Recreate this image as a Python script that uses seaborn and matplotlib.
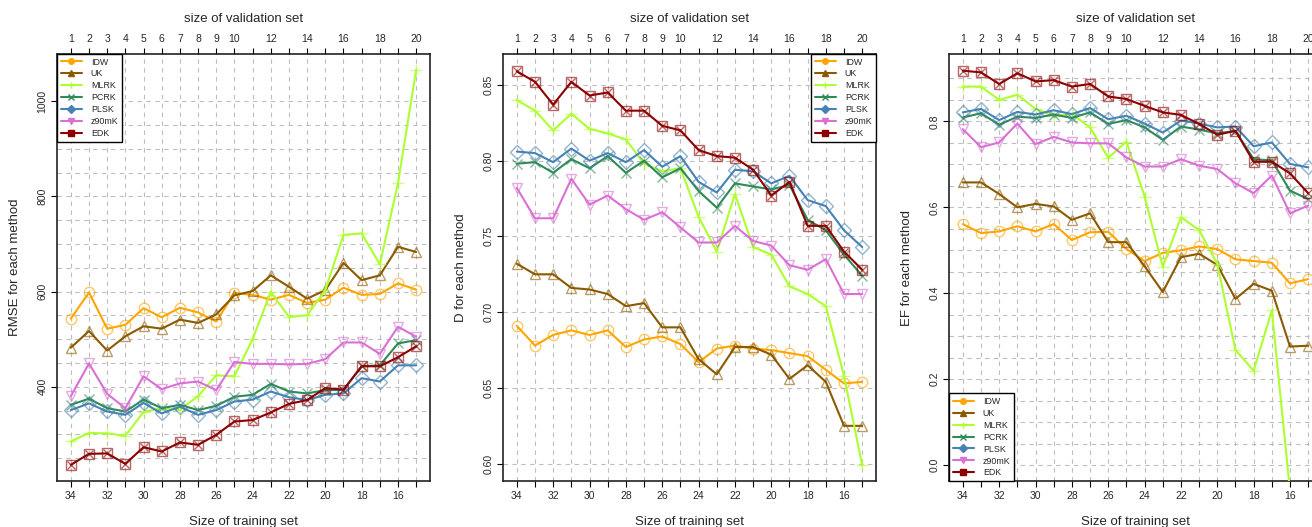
import matplotlib
matplotlib.use("Agg")
import numpy as np
import pandas as pd
import matplotlib.pyplot as plt
from matplotlib.lines import Line2D
import seaborn as sns

# x axis: size of validation set (top) / size of training set (bottom)
validation_size = [1, 2, 3, 4, 5, 6, 7, 8, 9, 10, 11, 12, 13, 14, 15, 16, 17, 18, 19, 20]
training_size = [34, 33, 32, 31, 30, 29, 28, 27, 26, 25, 24, 23, 22, 21, 20, 19, 18, 17, 16, 15]
methods = ["IDW", "UK", "MLRK", "PCRK", "PLSK", "z90mK", "EDK"]

# RMSE
rmse_idw = [543, 598, 522, 530, 565, 546, 566, 556, 537, 597, 593, 583, 593, 576, 583, 608, 593, 595, 617, 604]
rmse_uk = [482, 517, 476, 506, 527, 522, 541, 534, 552, 592, 601, 634, 610, 585, 603, 660, 624, 634, 694, 683]
rmse_mlrk = [285, 303, 302, 297, 347, 355, 352, 380, 424, 422, 500, 599, 547, 550, 603, 719, 722, 657, 828, 1066]
rmse_pcrk = [362, 375, 355, 348, 373, 355, 362, 351, 360, 379, 383, 406, 390, 386, 393, 393, 443, 445, 491, 498]
rmse_plsk = [351, 365, 348, 341, 366, 344, 358, 341, 351, 369, 373, 390, 378, 372, 383, 386, 418, 411, 445, 445]
rmse_z90mk = [380, 449, 385, 355, 422, 395, 407, 411, 393, 452, 448, 448, 447, 448, 458, 493, 493, 469, 526, 505]
rmse_edk = [236, 259, 260, 238, 273, 264, 283, 278, 299, 327, 330, 346, 364, 372, 397, 394, 443, 443, 462, 485]

# D
d_idw = [0.691, 0.678, 0.685, 0.688, 0.685, 0.688, 0.677, 0.682, 0.684, 0.679, 0.667, 0.676, 0.678, 0.676, 0.675, 0.673, 0.671, 0.662, 0.653, 0.654]
d_uk = [0.732, 0.725, 0.725, 0.716, 0.715, 0.712, 0.704, 0.706, 0.690, 0.690, 0.669, 0.659, 0.677, 0.677, 0.672, 0.656, 0.665, 0.654, 0.625, 0.625]
d_mlrk = [0.840, 0.833, 0.820, 0.831, 0.821, 0.818, 0.814, 0.798, 0.793, 0.795, 0.763, 0.740, 0.778, 0.743, 0.738, 0.717, 0.712, 0.704, 0.658, 0.599]
d_pcrk = [0.798, 0.799, 0.792, 0.801, 0.795, 0.803, 0.792, 0.800, 0.789, 0.795, 0.780, 0.769, 0.785, 0.783, 0.781, 0.784, 0.761, 0.754, 0.738, 0.724]
d_plsk = [0.806, 0.805, 0.799, 0.808, 0.800, 0.805, 0.799, 0.807, 0.796, 0.803, 0.786, 0.779, 0.794, 0.793, 0.785, 0.790, 0.774, 0.770, 0.754, 0.743]
d_z90mk = [0.782, 0.762, 0.762, 0.788, 0.771, 0.777, 0.768, 0.761, 0.766, 0.756, 0.746, 0.746, 0.757, 0.747, 0.744, 0.731, 0.728, 0.735, 0.712, 0.712]
d_edk = [0.859, 0.852, 0.837, 0.852, 0.843, 0.845, 0.833, 0.833, 0.823, 0.820, 0.807, 0.803, 0.802, 0.794, 0.777, 0.786, 0.757, 0.757, 0.740, 0.728]

# EF
ef_idw = [0.561, 0.540, 0.544, 0.556, 0.544, 0.561, 0.524, 0.542, 0.543, 0.503, 0.475, 0.494, 0.500, 0.509, 0.503, 0.479, 0.475, 0.471, 0.423, 0.433]
ef_uk = [0.658, 0.658, 0.631, 0.600, 0.608, 0.602, 0.571, 0.586, 0.519, 0.519, 0.463, 0.403, 0.484, 0.492, 0.466, 0.387, 0.422, 0.406, 0.276, 0.278]
ef_mlrk = [0.881, 0.881, 0.850, 0.862, 0.829, 0.813, 0.817, 0.786, 0.715, 0.753, 0.625, 0.462, 0.577, 0.547, 0.468, 0.268, 0.220, 0.360, -0.06, -0.25]
ef_pcrk = [0.809, 0.819, 0.792, 0.811, 0.808, 0.816, 0.808, 0.821, 0.794, 0.803, 0.786, 0.757, 0.788, 0.781, 0.772, 0.778, 0.712, 0.709, 0.639, 0.619]
ef_plsk = [0.821, 0.829, 0.803, 0.822, 0.816, 0.826, 0.817, 0.831, 0.805, 0.813, 0.795, 0.774, 0.802, 0.795, 0.786, 0.788, 0.742, 0.751, 0.701, 0.693]
ef_z90mk = [0.782, 0.740, 0.751, 0.795, 0.747, 0.764, 0.751, 0.749, 0.749, 0.716, 0.695, 0.695, 0.712, 0.697, 0.689, 0.656, 0.633, 0.674, 0.586, 0.604]
ef_edk = [0.918, 0.914, 0.887, 0.912, 0.893, 0.896, 0.881, 0.887, 0.858, 0.852, 0.836, 0.821, 0.815, 0.794, 0.769, 0.778, 0.706, 0.706, 0.679, 0.633]

colors = {"IDW": "#FFA500", "UK": "#8B5A00", "MLRK": "#ADFF2F", "PCRK": "#2E8B57",
          "PLSK": "#4682B4", "z90mK": "#DA70D6", "EDK": "#8B0000"}
marks = {"IDW": ["o"], "UK": ["^"], "MLRK": ["+"], "PCRK": ["x"],
         "PLSK": ["D"], "z90mK": ["v"], "EDK": ["s", "x"]}
legend_marks = {"IDW": "o", "UK": "^", "MLRK": "+", "PCRK": "x",
                "PLSK": "D", "z90mK": "v", "EDK": "s"}


def long_frame(series):
    rows = []
    for m, vals in zip(methods, series):
        for v, val in zip(validation_size, vals):
            rows.append({"validation": v, "method": m, "value": val})
    return pd.DataFrame(rows)


sns.set_theme(style="white")
plt.rcParams["font.family"] = ["Liberation Sans", "DejaVu Sans"]

fig = plt.figure(figsize=(13.12, 5.27), dpi=100)

panels = [
    dict(df=long_frame([rmse_idw, rmse_uk, rmse_mlrk, rmse_pcrk, rmse_plsk, rmse_z90mk, rmse_edk]),
         ylabel="RMSE for each method", ylim=(202, 1099), yticks=[400, 600, 800, 1000],
         ylabs=["400", "600", "800", "1000"], grid=np.arange(250, 1001, 50),
         loc="upper left", left=57),
    dict(df=long_frame([d_idw, d_uk, d_mlrk, d_pcrk, d_plsk, d_z90mk, d_edk]),
         ylabel="D for each method", ylim=(0.5886, 0.8704), yticks=[0.60, 0.65, 0.70, 0.75, 0.80, 0.85],
         ylabs=["0.60", "0.65", "0.70", "0.75", "0.80", "0.85"], grid=np.arange(0.60, 0.851, 0.05),
         loc="upper right", left=503),
    dict(df=long_frame([ef_idw, ef_uk, ef_mlrk, ef_pcrk, ef_plsk, ef_z90mk, ef_edk]),
         ylabel="EF for each method", ylim=(-0.0368, 0.9568), yticks=[0.0, 0.2, 0.4, 0.6, 0.8],
         ylabs=["0.0", "0.2", "0.4", "0.6", "0.8"], grid=np.arange(0.0, 0.901, 0.05),
         loc="lower left", left=949),
]

W, H = 1312, 527
for p in panels:
    ax = fig.add_axes([p["left"] / W, 46 / H, 373 / W, 427 / H])
    ax.set_facecolor("white")
    for g in p["grid"]:
        ax.axhline(g, color="#BEBEBE", lw=0.8, ls=(0, (4, 4)), zorder=0)
    for v in validation_size:
        ax.axvline(v, color="#BEBEBE", lw=0.8, ls=(0, (4, 4)), zorder=0)

    df = p["df"]
    for m in methods:
        sub = df[df["method"] == m]
        sns.lineplot(data=sub, x="validation", y="value", color=colors[m], lw=1.5,
                     ax=ax, legend=False, zorder=3)
        for mk in marks[m]:
            size = 9 if mk == "+" else (7 if mk == "D" else 7.5)
            if m == "EDK" and mk == "x":
                size = 6
            ax.plot(sub["validation"], sub["value"], ls="none", marker=mk, ms=size,
                    mfc="none", mec=colors[m], mew=1.0, alpha=0.6, zorder=3)

    ax.set_xlim(0.24, 20.76)
    ax.set_ylim(*p["ylim"])
    ax.set_xticks(validation_size)
    ax.set_xticklabels([str(t) if i % 2 == 0 else "" for i, t in enumerate(training_size)])
    ax.set_yticks(p["yticks"])
    ax.set_yticklabels(p["ylabs"])
    for lab in ax.get_yticklabels():
        lab.set_rotation(90)
        lab.set_va("center")
    ax.tick_params(axis="both", direction="out", length=4, width=0.8, color="black",
                   labelsize=7.5, pad=3, bottom=True, left=True)
    for s in ax.spines.values():
        s.set_color("#222222")
        s.set_linewidth(1.2)

    top = ax.secondary_xaxis("top")
    top.set_xticks(validation_size)
    top.set_xticklabels([str(v) if (v <= 10 or v % 2 == 0) else "" for v in validation_size])
    top.tick_params(direction="out", length=4, width=0.8, color="black", labelsize=7.5, pad=3)
    top.spines["top"].set_visible(False)

    ax.text(0.5, 1 + 35 / 427, "size of validation set", transform=ax.transAxes,
            ha="center", va="center", fontsize=9.5)
    ax.set_xlabel("Size of training set", fontsize=9.5)
    ax.xaxis.label.set_va("center")
    ax.xaxis.set_label_coords(0.5, -41 / 427)
    ax.set_ylabel(p["ylabel"], fontsize=9.5)
    ax.yaxis.label.set_va("center")
    ax.yaxis.set_label_coords(-42 / 373, 0.5)

    handles = [Line2D([0], [0], color=colors[m], lw=1.5, marker=legend_marks[m], ms=4,
                      mfc=colors[m], mec=colors[m]) for m in methods]
    leg = ax.legend(handles, methods, loc=p["loc"], fontsize=6.4, frameon=True, fancybox=False,
                    edgecolor="black", framealpha=1, borderaxespad=0, handlelength=2.4,
                    handletextpad=1.0, labelspacing=0.33, borderpad=0.4)
    leg.get_frame().set_linewidth(1.0)
    leg.set_zorder(5)

fig.savefig("out.png", dpi=100)
